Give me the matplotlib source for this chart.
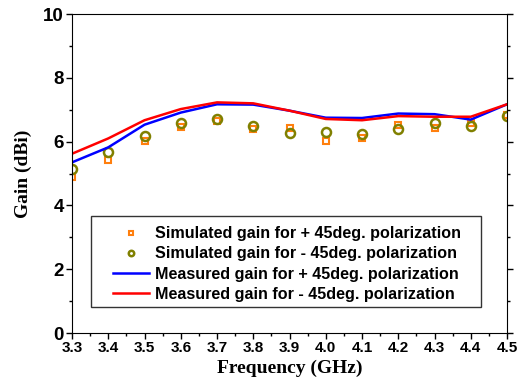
import matplotlib.pyplot as plt
from matplotlib.patches import Rectangle
from matplotlib.ticker import MultipleLocator

freq = [3.3, 3.4, 3.5, 3.6, 3.7, 3.8, 3.9, 4.0, 4.1, 4.2, 4.3, 4.4, 4.5]
sim_plus = [4.88, 5.43, 6.01, 6.47, 6.66, 6.40, 6.42, 6.01, 6.12, 6.51, 6.44, 6.58, 6.84]
sim_minus = [5.15, 5.66, 6.17, 6.58, 6.70, 6.48, 6.28, 6.29, 6.25, 6.38, 6.59, 6.48, 6.81]
meas_plus = [5.35, 5.82, 6.53, 6.91, 7.17, 7.16, 6.97, 6.75, 6.74, 6.88, 6.86, 6.69, 7.17]
meas_minus = [5.62, 6.10, 6.67, 7.02, 7.23, 7.20, 6.97, 6.71, 6.67, 6.80, 6.78, 6.78, 7.17]

xticks = freq
xlabels = ["%.1f" % f for f in freq]

fig = plt.figure(figsize=(5.24, 3.85), dpi=100)
ax = fig.add_axes([0.1374, 0.135, 0.8302, 0.8286])

ax.plot(freq, sim_plus, linestyle="none", marker="s", markersize=5,
        markerfacecolor="none", markeredgecolor="#ff7f0e", markeredgewidth=1.5,
        label="Simulated gain for + 45deg. polarization")
ax.plot(freq, sim_minus, linestyle="none", marker="o", markersize=6.5,
        markerfacecolor="none", markeredgecolor="#808000", markeredgewidth=1.8,
        label="Simulated gain for - 45deg. polarization")
ax.plot(freq, meas_plus, color="#0000ff", lw=1.8,
        label="Measured gain for + 45deg. polarization")
ax.plot(freq, meas_minus, color="#ff0000", lw=1.8,
        label="Measured gain for - 45deg. polarization")

ax.set_xlim(3.3, 4.5)
ax.set_ylim(0, 10)
ax.set_xticks(xticks)
ax.set_xticklabels(xlabels)
ax.xaxis.set_minor_locator(MultipleLocator(0.05))
ax.yaxis.set_major_locator(MultipleLocator(2))
ax.yaxis.set_minor_locator(MultipleLocator(1))
ax.tick_params(which="both", direction="out", right=True, top=False)
ax.tick_params(which="major", length=4, width=1)
ax.tick_params(which="minor", length=2.5, width=1)
ax.tick_params(axis="x", which="major", labelsize=11, pad=2)
ax.tick_params(axis="y", which="major", labelsize=13.5, pad=2)
for lab in ax.get_xticklabels() + ax.get_yticklabels():
    lab.set_fontweight("bold")
    lab.set_fontfamily("Liberation Sans")

ax.set_xlabel("Frequency (GHz)", fontsize=14, fontweight="bold",
              fontfamily="Liberation Serif", labelpad=3)
ax.set_ylabel("Gain (dBi)", fontsize=14, fontweight="bold",
              fontfamily="Liberation Serif", labelpad=8)

# legend box drawn separately so the padding can be wider than tall
frame = Rectangle((0.0437, 0.0815), 0.8966, 0.2855, transform=ax.transAxes,
                  facecolor="white", edgecolor="#333333", lw=1.0, zorder=4)
ax.add_patch(frame)
leg = ax.legend(loc="center left", bbox_to_anchor=(0.094, 0.216),
                prop={"family": "Liberation Sans", "weight": "bold", "size": 11.6},
                frameon=False, markerscale=0.6, handlelength=2.25,
                handletextpad=0.37, labelspacing=0.33, borderpad=0,
                borderaxespad=0)
leg.set_zorder(5)

fig.savefig("out.png", dpi=100)
